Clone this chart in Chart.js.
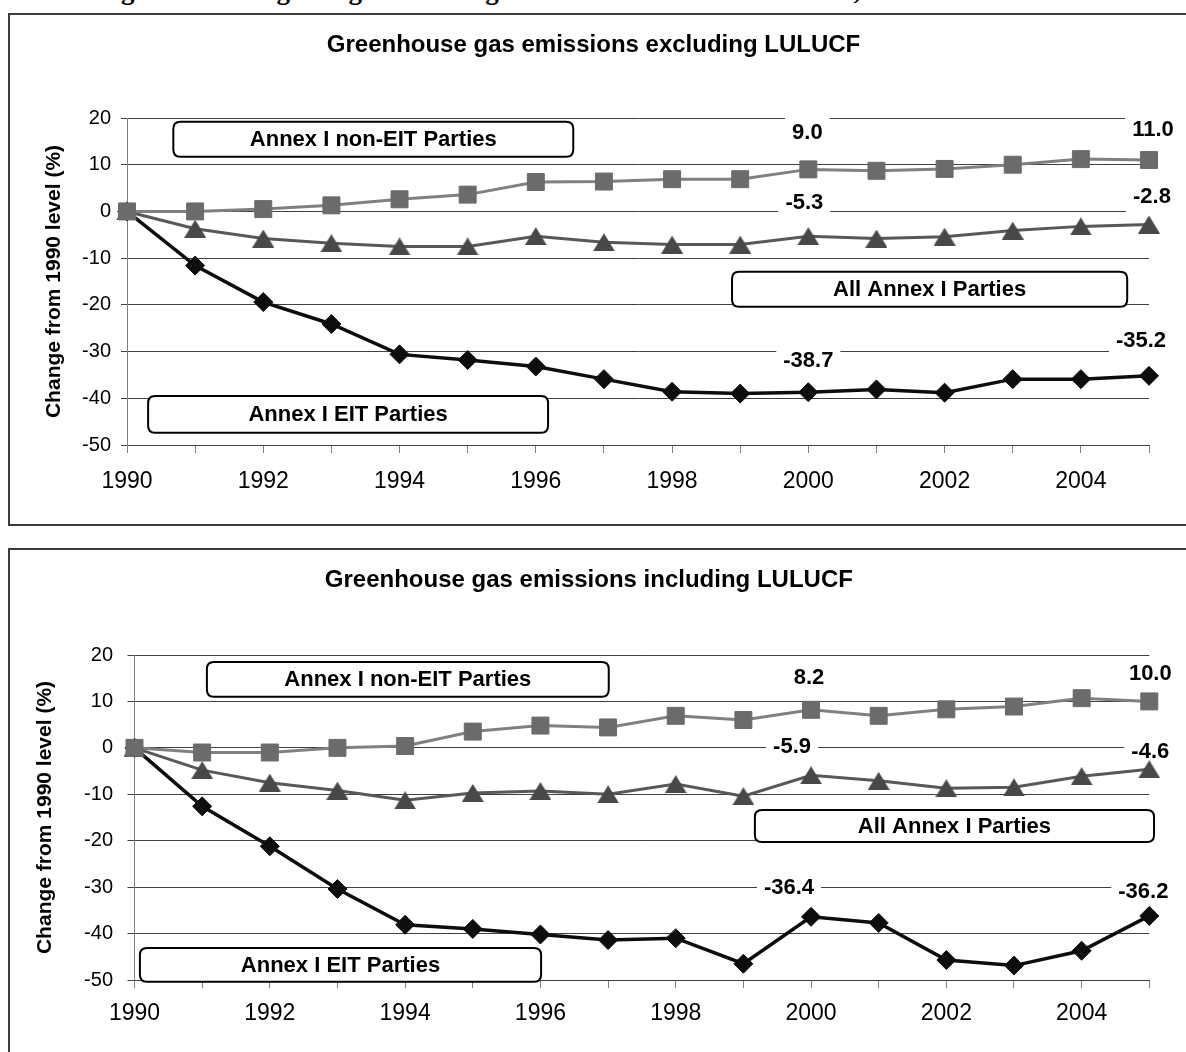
<!DOCTYPE html>
<html>
<head>
<meta charset="utf-8">
<script src="https://cdn.jsdelivr.net/npm/chart.js@4.4.1/dist/chart.umd.min.js"></script>
<style>
  html, body { margin: 0; padding: 0; background: #fff; width: 1186px; height: 1052px; overflow: hidden; }
  .caption { position: absolute; left: 97px; top: -23px; font: bold 27px "Liberation Serif", serif; line-height: 26px; white-space: nowrap; color: #000; }
  .frame { position: absolute; left: 8px; width: 1220px; border: 2px solid #3c3c3c; box-sizing: border-box; }
  #frameTop { top: 13px; height: 513px; }
  #frameBottom { top: 548px; height: 540px; }
  .wrap { position: absolute; left: 11px; width: 1175px; }
  #wrapTop { top: 15px; height: 509px; }
  #wrapBottom { top: 550px; height: 502px; }
</style>
</head>
<body>
<div class="caption">Figure 1.&nbsp; Changes in greenhouse gas emissions of Annex I Parties, 1990–2005</div>
<div class="frame" id="frameTop"></div>
<div class="frame" id="frameBottom"></div>
<div class="wrap" id="wrapTop"><canvas id="chartTop"></canvas></div>
<div class="wrap" id="wrapBottom"><canvas id="chartBottom"></canvas></div>
<script>
// years on the x axis
var years = [1990, 1991, 1992, 1993, 1994, 1995, 1996, 1997, 1998, 1999, 2000, 2001, 2002, 2003, 2004, 2005];
var seriesNames = ['Annex I non-EIT Parties', 'All Annex I Parties', 'Annex I EIT Parties'];

// excluding LULUCF, % change from 1990
var nonEitExcl = [0.0, 0.0, 0.5, 1.3, 2.6, 3.6, 6.3, 6.4, 6.9, 6.9, 9.0, 8.7, 9.1, 10.0, 11.2, 11.0];
var allExcl    = [0.0, -3.7, -5.8, -6.8, -7.5, -7.5, -5.3, -6.6, -7.1, -7.1, -5.3, -5.8, -5.4, -4.1, -3.2, -2.8];
var eitExcl    = [0.0, -11.6, -19.4, -24.1, -30.6, -31.8, -33.2, -35.9, -38.6, -39.0, -38.7, -38.1, -38.8, -35.9, -35.9, -35.2];

// including LULUCF, % change from 1990
var nonEitIncl = [0.0, -1.0, -1.0, 0.0, 0.4, 3.5, 4.8, 4.4, 6.9, 6.0, 8.2, 6.9, 8.3, 8.9, 10.7, 10.0];
var allIncl    = [0.0, -4.8, -7.5, -9.2, -11.3, -9.7, -9.3, -10.0, -7.8, -10.4, -5.9, -7.1, -8.7, -8.5, -6.1, -4.6];
var eitIncl    = [0.0, -12.6, -21.2, -30.4, -38.1, -39.0, -40.2, -41.4, -41.0, -46.5, -36.4, -37.7, -45.7, -46.9, -43.7, -36.2];

var yTicks = { min: -50, max: 20, step: 10 };

Chart.defaults.font.family = '"Liberation Sans", Arial, sans-serif';
Chart.defaults.color = '#000';

function triangleMarker(w, h, color) {
  var c = document.createElement('canvas');
  c.width = w; c.height = h;
  var g = c.getContext('2d');
  g.fillStyle = color;
  g.beginPath();
  g.moveTo(w / 2, 0);
  g.lineTo(w, h);
  g.lineTo(0, h);
  g.closePath();
  g.fill();
  return c;
}

function roundBox(ctx, x, y, w, h, r) {
  ctx.beginPath();
  ctx.moveTo(x + r, y);
  ctx.lineTo(x + w - r, y);
  ctx.quadraticCurveTo(x + w, y, x + w, y + r);
  ctx.lineTo(x + w, y + h - r);
  ctx.quadraticCurveTo(x + w, y + h, x + w - r, y + h);
  ctx.lineTo(x + r, y + h);
  ctx.quadraticCurveTo(x, y + h, x, y + h - r);
  ctx.lineTo(x, y + r);
  ctx.quadraticCurveTo(x, y, x + r, y);
  ctx.closePath();
}

// text boxes and value labels, drawn over the grid but under the lines
var overlay = {
  id: 'overlay',
  beforeDatasetsDraw: function (chart, args, opts) {
    var ctx = chart.ctx, xs = chart.scales.x, ys = chart.scales.y;
    ctx.save();
    ctx.font = 'bold 22px "Liberation Sans", Arial, sans-serif';
    ctx.textAlign = 'center';
    ctx.textBaseline = 'middle';
    opts.boxes.forEach(function (b) {
      var x0 = xs.getPixelForValue(b.x0), x1 = xs.getPixelForValue(b.x1);
      var y0 = ys.getPixelForValue(b.y0), y1 = ys.getPixelForValue(b.y1);
      roundBox(ctx, x0, y0, x1 - x0, y1 - y0, 7);
      ctx.fillStyle = '#fff';
      ctx.fill();
      ctx.lineWidth = 2;
      ctx.strokeStyle = '#000';
      ctx.stroke();
      ctx.fillStyle = '#000';
      ctx.fillText(b.text, (x0 + x1) / 2, (y0 + y1) / 2 + 1);
    });
    opts.labels.forEach(function (l) {
      var pt = chart.getDatasetMeta(l.ds).data[l.i];
      var v = chart.data.datasets[l.ds].data[l.i].y;
      var txt = v.toFixed(1);
      var cx = pt.x + l.dx, cy = pt.y - l.dy;
      var w = ctx.measureText(txt).width + 14;
      ctx.fillStyle = '#fff';
      ctx.fillRect(cx - w / 2, cy - 17, w, 34);
      ctx.fillStyle = '#000';
      ctx.fillText(txt, cx, cy + 1);
    });
    ctx.restore();
  }
};

function points(vals) {
  return years.map(function (yr, i) { return { x: yr, y: vals[i] }; });
}

function makeChart(id, title, vals, boxes, labels, lay) {
  var styles = [
    { line: '#808080', fill: '#6b6b6b', style: 'rect', r: 12, bw: 3 },
    { line: '#585858', fill: '#484848', style: triangleMarker(22, 18, '#484848'), r: 11, bw: 3 },
    { line: '#0d0d0d', fill: '#0d0d0d', style: 'rectRot', r: 9.5, bw: 3.5 }
  ];
  return new Chart(document.getElementById(id), {
    type: 'line',
    data: {
      datasets: vals.map(function (v, k) {
        var s = styles[k];
        return {
          label: seriesNames[k],
          data: points(v),
          borderColor: s.line,
          borderWidth: s.bw,
          backgroundColor: s.fill,
          pointStyle: s.style,
          pointRadius: s.r,
          pointBackgroundColor: s.fill,
          pointBorderColor: s.fill,
          pointBorderWidth: 1,
          tension: 0,
          clip: false
        };
      })
    },
    options: {
      responsive: true,
      maintainAspectRatio: false,
      animation: false,
      events: [],
      layout: { padding: { left: lay.padLeft, right: lay.padRight, top: 0, bottom: 0 } },
      plugins: {
        legend: { display: false },
        tooltip: { enabled: false },
        title: {
          display: true,
          text: title,
          font: { size: 24, weight: 'bold' },
          color: '#000',
          padding: { top: lay.titleTop, bottom: lay.titleBottom }
        },
        overlay: { boxes: boxes, labels: labels }
      },
      scales: {
        x: {
          type: 'linear',
          min: years[0],
          max: years[years.length - 1],
          grid: { drawOnChartArea: false, drawTicks: true, tickLength: 8, color: '#808080' },
          border: { color: '#404040', width: 1 },
          ticks: {
            stepSize: 1,
            autoSkip: false,
            maxRotation: 0,
            padding: lay.xPad,
            font: { size: 23 },
            color: '#000',
            callback: function (v) { return v % 2 === 0 ? String(v) : ''; }
          },
          afterFit: function (s) { s.height = lay.xHeight; }
        },
        y: {
          min: yTicks.min,
          max: yTicks.max,
          grid: { color: '#404040', lineWidth: 1, drawTicks: true, tickLength: lay.yTick },
          border: { color: '#808080', width: 1 },
          ticks: { stepSize: yTicks.step, padding: lay.yPad, font: { size: 20 }, color: '#000' },
          title: {
            display: true,
            text: 'Change from 1990 level (%)',
            font: { size: 21, weight: 'bold' },
            color: '#000',
            padding: { top: 4, bottom: 4 }
          },
          afterFit: function (s) { s.width = lay.yWidth; }
        }
      }
    },
    plugins: [overlay]
  });
}

makeChart('chartTop', 'Greenhouse gas emissions excluding LULUCF',
  [nonEitExcl, allExcl, eitExcl],
  [
    { text: 'Annex I non-EIT Parties', x0: 1990.68, x1: 1996.55, y0: 19.2, y1: 11.7 },
    { text: 'All Annex I Parties', x0: 1998.88, x1: 2004.68, y0: -12.9, y1: -20.4 },
    { text: 'Annex I EIT Parties', x0: 1990.31, x1: 1996.18, y0: -39.5, y1: -47.4 }
  ],
  [
    { ds: 0, i: 10, dx: -1, dy: 37 }, { ds: 0, i: 15, dx: 4, dy: 31 },
    { ds: 1, i: 10, dx: -4, dy: 34 }, { ds: 1, i: 15, dx: 3, dy: 29 },
    { ds: 2, i: 10, dx: 0, dy: 32 }, { ds: 2, i: 15, dx: -8, dy: 36 }
  ],
  { padLeft: 27, yWidth: 89, padRight: 37, titleTop: 16, titleBottom: 58.2, xHeight: 79, xPad: 15, yTick: 6, yPad: 10 });

makeChart('chartBottom', 'Greenhouse gas emissions including LULUCF',
  [nonEitIncl, allIncl, eitIncl],
  [
    { text: 'Annex I non-EIT Parties', x0: 1991.07, x1: 1997.01, y0: 18.5, y1: 11.0 },
    { text: 'All Annex I Parties', x0: 1999.17, x1: 2005.07, y0: -13.4, y1: -20.3 },
    { text: 'Annex I EIT Parties', x0: 1990.08, x1: 1996.01, y0: -43.1, y1: -50.4 }
  ],
  [
    { ds: 0, i: 10, dx: -2, dy: 33 }, { ds: 0, i: 15, dx: 1, dy: 28 },
    { ds: 1, i: 10, dx: -19, dy: 29 }, { ds: 1, i: 15, dx: 1, dy: 18 },
    { ds: 2, i: 10, dx: -22, dy: 30 }, { ds: 2, i: 15, dx: -6, dy: 25 }
  ],
  { padLeft: 17.4, yWidth: 106.1, padRight: 36.7, titleTop: 16, titleBottom: 60.2, xHeight: 72, xPad: 11.7, yTick: 7, yPad: 14.5 });
</script>
</body>
</html>
